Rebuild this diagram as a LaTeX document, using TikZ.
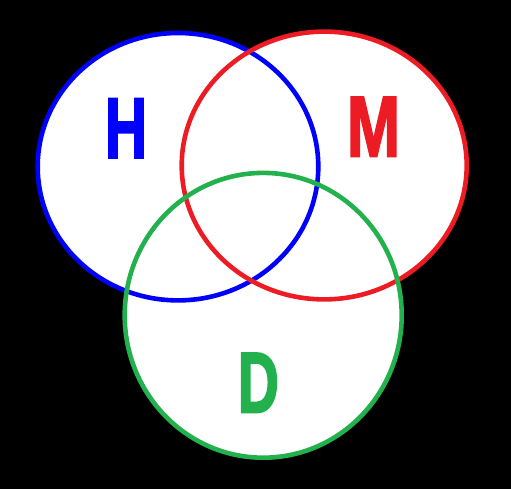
\documentclass[tikz,border=0pt]{standalone}
\usepackage{fontspec}
\setmainfont{Liberation Sans}
\newfontfamily\heavyfont[FakeBold=2.5]{Liberation Sans Bold}
\usepackage{graphicx}
\definecolor{vblue}{HTML}{0000FF}
\definecolor{vred}{HTML}{ED1C24}
\definecolor{vgreen}{HTML}{22B14C}
\begin{document}
\begin{tikzpicture}[x=1pt,y=-1pt,
  ring/.style={line width=4.6pt},
  letter/.style={inner sep=0pt, anchor=center, font=\heavyfont\fontsize{86}{86}\selectfont}]
\fill[black] (0,0) rectangle (511,489);
\useasboundingbox (0,0) rectangle (511,489);
% fills
\fill[white] (178,166.7) ellipse [x radius=140.3, y radius=133.7];
\fill[white] (324.2,165.5) ellipse [x radius=142.5, y radius=133.9];
\fill[white] (263.2,315.3) ellipse [x radius=138.5, y radius=142.4];
% outlines
\draw[ring, vblue] (178,166.7) ellipse [x radius=140.3, y radius=133.7];
\draw[ring, vred] (324.2,165.5) ellipse [x radius=142.5, y radius=133.9];
\draw[ring, vgreen] (263.2,315.3) ellipse [x radius=138.5, y radius=142.4];
% letters
\node[letter, text=vblue] (H) at (126,128.3) {\scalebox{0.68}[1]{H}};
\node[letter, text=vred] (M) at (373.5,126.7) {\scalebox{0.74}[1]{M}};
\node[letter, text=vgreen] (D) at (258.4,382.7) {\scalebox{0.66}[1]{D}};
\end{tikzpicture}
\end{document}
